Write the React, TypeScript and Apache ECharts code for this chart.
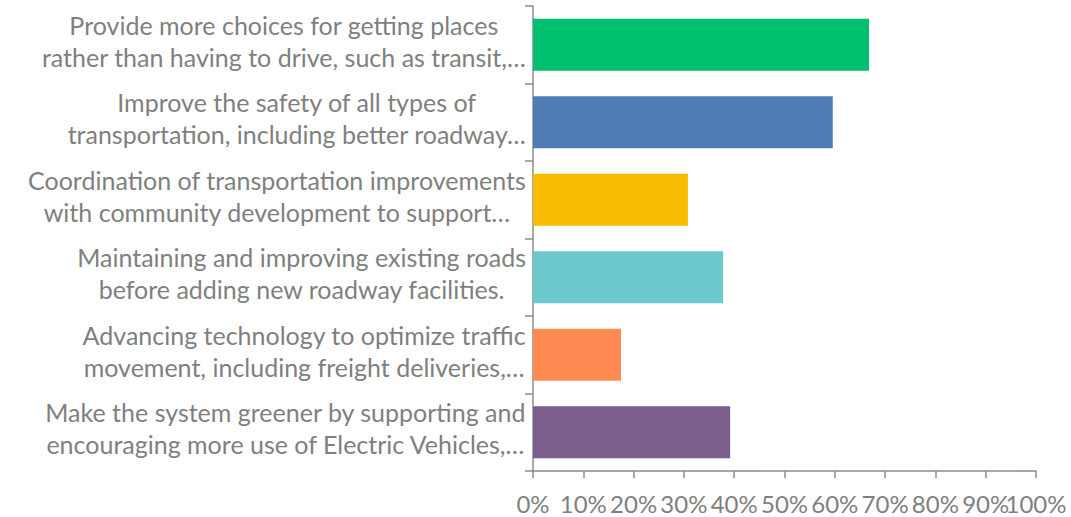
import React, { useEffect, useRef } from "react";
import * as echarts from "echarts";

const categories = [
  "Provide more choices for getting places\nrather than having to drive, such as transit,…",
  "Improve the safety of all types of\ntransportation, including better roadway…",
  "Coordination of transportation improvements\nwith community development to support…",
  "Maintaining and improving existing roads\nbefore adding new roadway facilities.",
  "Advancing technology to optimize traffic\nmovement, including freight deliveries,…",
  "Make the system greener by supporting and\nencouraging more use of Electric Vehicles,…",
];
const values = [66.8, 59.6, 30.8, 37.8, 17.5, 39.2];
const colors = ["#00BF6F", "#507CB6", "#F8BD00", "#6BC8CC", "#FF8B52", "#7C5E8E"];
const xTicks = { min: 0, max: 100, interval: 10 };

const TEXT = "#7f7f7f";
const AXIS = "#8c8c8c";

const xLabelStyle = {
  color: TEXT,
  fontFamily: "Lato",
  fontSize: 24,
  margin: 20,
  hideOverlap: false,
};

export default function App() {
  const ref = useRef<HTMLDivElement>(null);
  useEffect(() => {
    const chart = echarts.init(ref.current!, null, { renderer: "svg" });
    chart.setOption({
      animation: false,
      backgroundColor: "#ffffff",
      grid: { left: 533, right: 35, top: 6, bottom: 46, containLabel: false },
      xAxis: [
        {
          type: "value",
          position: "bottom",
          min: xTicks.min,
          max: xTicks.max,
          interval: xTicks.interval,
          splitLine: { show: false },
          axisLine: { show: true, lineStyle: { color: AXIS, width: 1.5 } },
          axisTick: { show: true, length: 7, lineStyle: { color: AXIS, width: 1.5 } },
          axisLabel: {
            ...xLabelStyle,
            formatter: (v: number) => (v === xTicks.max ? "" : `${v}%`),
          },
        },
        {
          type: "value",
          position: "bottom",
          min: xTicks.min,
          max: xTicks.max,
          interval: xTicks.interval,
          splitLine: { show: false },
          axisLine: { show: false },
          axisTick: { show: false },
          axisLabel: {
            ...xLabelStyle,
            formatter: (v: number) => (v === xTicks.max ? `${v}%` : ""),
          },
        },
      ],
      yAxis: {
        type: "category",
        inverse: true,
        data: categories,
        axisLine: { show: true, lineStyle: { color: AXIS, width: 1.5 } },
        axisTick: { show: true, length: 8, lineStyle: { color: AXIS, width: 1.5 } },
        axisLabel: {
          color: TEXT,
          fontFamily: "Lato",
          fontSize: 25,
          lineHeight: 32,
          margin: 7,
          align: "right",
          padding: [0, 0, 8, 0],
          formatter: (v: string) =>
            v
              .split("\n")
              .map((l) => `{c|${l}}`)
              .join("\n"),
          rich: {
            c: {
              align: "center",
              color: TEXT,
              fontFamily: "Lato",
              fontSize: 25,
              lineHeight: 32,
            },
          },
        },
      },
      series: [
        {
          type: "bar",
          xAxisIndex: 0,
          data: values.map((v, i) => ({ value: v, itemStyle: { color: colors[i] } })),
          barCategoryGap: "33%",
        },
      ],
    });
    return () => chart.dispose();
  }, []);
  return (
    <div
      ref={ref}
      style={{ position: "fixed", left: 0, top: 0, width: 1071, height: 517 }}
    />
  );
}
